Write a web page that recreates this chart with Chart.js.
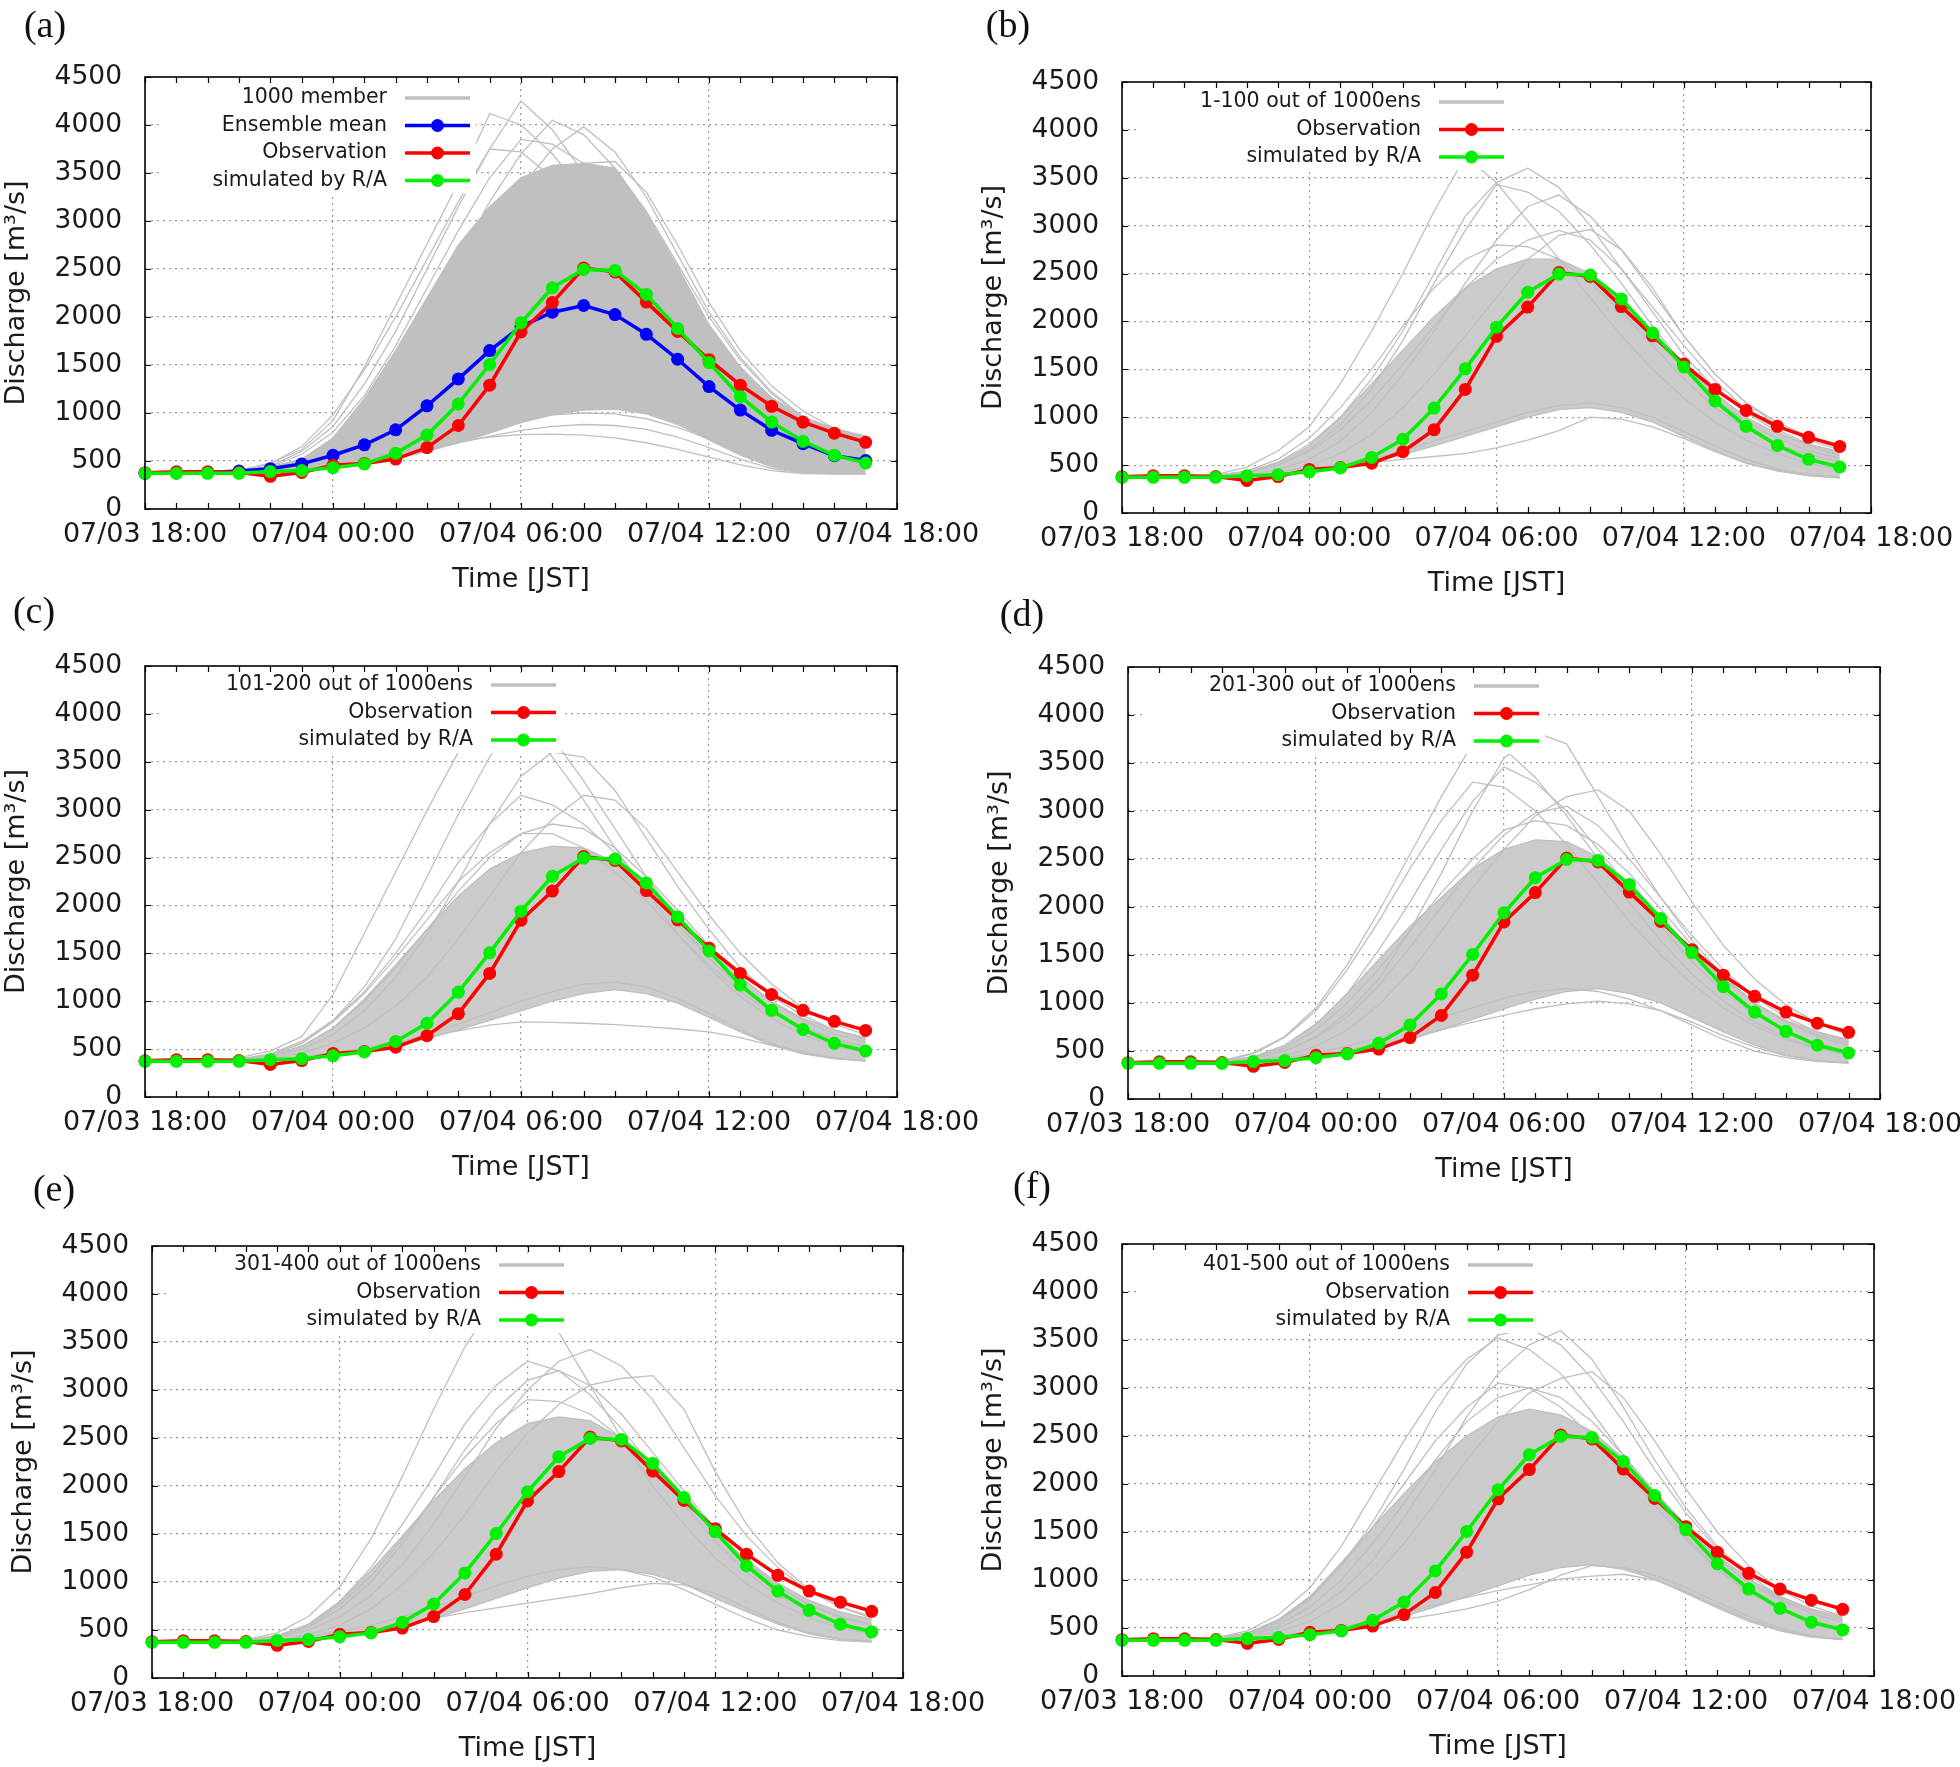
<!DOCTYPE html>
<html>
<head>
<meta charset="utf-8">
<script src="https://cdn.jsdelivr.net/npm/chart.js@4.4.1/dist/chart.umd.min.js"></script>
<style>
  html, body { margin: 0; padding: 0; background: #fff; }
  body { width: 1960px; height: 1767px; position: relative; overflow: hidden; }
  canvas { position: absolute; }
  .tag { position: absolute; font-family: 'Liberation Serif', serif; font-size: 38px; color: #111; transform: translate(-50%, -50%); line-height: 1; z-index: 2; }
</style>
</head>
<body>
<div class="tag" style="left:45px;top:24px">(a)</div>
<div class="tag" style="left:1008px;top:24px">(b)</div>
<div class="tag" style="left:34px;top:610px">(c)</div>
<div class="tag" style="left:1022px;top:613px">(d)</div>
<div class="tag" style="left:54px;top:1188px">(e)</div>
<div class="tag" style="left:1032px;top:1185px">(f)</div>
<script>
/* ============================================================
   DISCHARGE ENSEMBLE PANELS (a)-(f)
   ============================================================ */

// hourly steps from 07/03 18:00 to 07/04 17:00
const hourOffsets = [0,1,2,3,4,5,6,7,8,9,10,11,12,13,14,15,16,17,18,19,20,21,22,23];
const tickLabels = ['07/03 18:00', '07/04 00:00', '07/04 06:00', '07/04 12:00', '07/04 18:00'];

const observation  = [378,388,388,380,340,380,455,475,520,640,870,1290,1845,2150,2510,2470,2155,1850,1555,1290,1070,905,790,695];
const simulatedRA  = [372,372,372,372,390,400,430,470,580,770,1095,1505,1940,2305,2495,2485,2235,1880,1525,1170,905,705,560,480];
const ensembleMean = [372,376,380,395,420,470,560,668,825,1075,1355,1650,1900,2050,2120,2025,1820,1560,1275,1030,820,680,555,505];

// (a) 1000 members: dense core + visible outliers
const bandLowA  = [365,365,365,365,375,395,420,460,520,600,690,790,900,980,1030,1040,990,880,720,560,440,380,365,365];
const bandHighA = [375,380,385,400,440,520,740,1150,1650,2200,2750,3150,3450,3580,3600,3550,3080,2520,1920,1480,1160,960,840,760];
const memberA1 = [370,372,378,395,450,600,860,1300,1850,2500,3150,3750,4250,3950,3500,3000,2500,2000,1550,1200,920,730,590,500];
const memberA2 = [370,375,380,400,480,620,920,1480,2120,2760,3400,4120,4000,3700,3300,2850,2350,1900,1450,1100,850,650,520,430];
const memberA3 = [370,370,375,385,420,510,700,1000,1450,2000,2600,3200,3700,4050,3900,3550,3100,2550,2000,1550,1200,950,780,650];
const memberA4 = [370,370,370,380,400,460,600,850,1200,1650,2200,2800,3350,3750,3980,3720,3250,2650,2050,1580,1220,960,800,690];
const memberA5 = [370,375,380,400,470,650,980,1450,2000,2600,3200,3750,3720,3450,3050,2600,2150,1720,1330,1020,800,630,510,440];
const memberA6 = [370,370,370,375,390,420,460,520,580,640,700,750,775,780,770,740,690,620,540,460,400,370,365,365];
const memberA7 = [370,370,370,375,390,420,460,520,600,690,780,860,930,980,1000,990,940,850,730,600,490,420,380,370];
const memberA8 = [370,370,370,375,390,430,520,700,980,1350,1800,2300,2800,3250,3600,3620,3300,2750,2150,1650,1280,1020,840,740];
const memberA9 = [370,370,370,375,385,410,440,490,550,620,690,760,820,860,880,870,830,750,640,520,420,375,365,365];
const memberA10 = [370,372,376,392,440,570,800,1180,1700,2300,2900,3450,3850,3800,3600,3250,2800,2300,1800,1400,1080,850,690,590];

// (b) members 1-100
const bandLowB  = [365,365,365,370,380,400,430,470,530,610,700,800,900,1000,1080,1100,1050,950,800,650,520,440,390,365];
const bandHighB = [375,380,385,395,430,520,700,1000,1350,1700,2050,2350,2550,2650,2650,2500,2250,1900,1550,1250,1000,830,720,640];
const memberB1 = [370,375,380,400,480,650,900,1350,1900,2500,3150,3720,3450,3050,2650,2250,1850,1500,1200,950,760,620,520,450];
const memberB2 = [370,370,375,390,430,530,720,1000,1400,1900,2500,3100,3450,3600,3400,3000,2550,2100,1650,1300,1050,850,700,600];
const memberB3 = [370,370,375,385,420,500,660,920,1300,1800,2400,2950,3430,3350,3150,2800,2400,1950,1550,1200,950,780,650,570];
const memberB4 = [370,370,370,380,400,450,560,750,1050,1450,1900,2400,2850,3200,3320,3100,2750,2300,1850,1450,1150,920,760,660];
const memberB5 = [370,370,370,375,390,420,490,620,820,1100,1450,1850,2250,2650,2900,2960,2750,2350,1850,1450,1150,950,800,720];
const memberB6 = [370,370,370,372,380,400,440,490,530,560,590,620,680,760,860,1000,980,900,780,640,520,440,390,370];
const memberB7 = [370,370,370,375,390,410,440,490,560,650,750,850,950,1050,1120,1150,1100,1000,850,700,560,460,400,380];
const memberB8 = [370,372,378,390,440,560,780,1100,1500,1950,2350,2650,2800,2780,2650,2400,2100,1750,1400,1100,880,720,610,540];
const memberB9 = [370,370,372,385,420,500,640,870,1180,1550,1950,2350,2650,2850,2950,2850,2550,2150,1750,1380,1080,870,720,630];

// (c) members 101-200
const bandLowC  = [365,365,365,370,380,400,430,470,530,610,700,800,900,1000,1080,1120,1080,980,830,680,540,450,400,375];
const bandHighC = [375,380,385,395,430,530,720,1020,1380,1750,2100,2380,2550,2620,2600,2450,2200,1880,1550,1250,1000,820,700,620];
const memberC1 = [370,375,380,410,480,630,1070,1710,2350,2990,3600,4120,3950,3550,3100,2600,2150,1700,1350,1050,820,650,530,460];
const memberC2 = [370,370,375,390,440,560,800,1150,1650,2300,2950,3550,4000,3750,3300,2800,2300,1850,1450,1150,900,720,600,520];
const memberC3 = [370,370,372,385,420,500,650,900,1250,1700,2250,2850,3350,3600,3550,3200,2700,2200,1750,1350,1050,850,700,600];
const memberC4 = [370,372,378,395,450,580,800,1100,1500,1950,2450,2850,3150,3050,2850,2550,2200,1800,1450,1150,900,730,610,530];
const memberC5 = [370,370,370,380,405,460,560,720,950,1250,1650,2100,2550,2900,3150,3100,2800,2350,1900,1500,1180,930,760,650];
const memberC6 = [370,370,370,375,390,420,460,510,570,630,690,750,785,780,770,755,735,710,680,620,540,470,410,375];
const memberC7 = [370,370,370,375,390,410,440,490,560,650,760,880,1000,1100,1180,1200,1150,1030,870,700,560,460,400,380];
const memberC8 = [370,372,378,392,440,560,780,1080,1450,1850,2250,2550,2750,2750,2600,2350,2050,1700,1380,1100,880,720,600,520];
const memberC9 = [370,370,374,388,430,530,720,1000,1350,1750,2150,2500,2750,2850,2800,2600,2300,1950,1580,1260,990,800,660,570];

// (d) members 201-300
const bandLowD  = [365,365,365,370,385,410,440,480,540,620,720,830,940,1040,1120,1150,1100,1000,850,700,560,460,400,380];
const bandHighD = [375,380,385,398,440,560,780,1100,1450,1800,2100,2400,2600,2700,2680,2520,2250,1900,1550,1250,1000,820,700,620];
const memberD1 = [370,370,372,385,420,500,650,900,1250,1750,2350,3000,3550,3820,3700,3150,2600,2100,1650,1280,1000,800,650,560];
const memberD2 = [370,375,380,400,480,650,950,1400,1950,2550,3150,3700,3650,3350,2950,2500,2050,1650,1300,1020,800,640,530,460];
const memberD3 = [370,372,378,392,440,560,780,1100,1550,2050,2600,3100,3460,3300,3000,2600,2200,1800,1430,1120,880,700,580,500];
const memberD4 = [370,370,370,378,400,450,550,720,980,1320,1750,2200,2600,2950,3150,3220,3000,2550,2050,1600,1250,980,790,660];
const memberD5 = [370,375,380,398,470,640,920,1350,1850,2400,2900,3300,3250,3000,2650,2250,1850,1500,1200,950,760,620,520,460];
const memberD6 = [370,370,370,375,390,420,460,510,570,640,720,800,870,940,990,1020,990,920,800,660,540,450,400,375];
const memberD7 = [370,370,370,375,395,430,480,550,640,740,850,950,1050,1120,1150,1120,1040,920,770,620,500,430,390,375];
const memberD8 = [370,370,372,385,420,500,640,860,1180,1580,2000,2400,2750,2980,3050,2850,2500,2100,1700,1350,1060,850,700,600];
const memberD9 = [370,370,374,388,430,530,720,1000,1350,1750,2150,2500,2800,2900,2850,2650,2350,1980,1600,1270,1000,810,670,580];

// (e) members 301-400
const bandLowE  = [365,365,365,370,385,410,440,480,540,620,720,830,940,1040,1110,1130,1080,980,830,690,560,460,400,380];
const bandHighE = [375,380,385,398,440,560,790,1120,1480,1850,2180,2450,2650,2720,2680,2500,2220,1880,1530,1230,990,810,690,610];
const memberE1 = [370,375,380,400,470,640,950,1450,2100,2800,3450,3950,4000,3600,3050,2500,2000,1600,1250,980,780,630,520,460];
const memberE2 = [370,370,372,385,420,500,640,860,1180,1600,2100,2600,3000,3300,3420,3250,2900,2400,1900,1480,1150,900,740,640];
const memberE3 = [370,372,378,392,440,560,800,1150,1600,2100,2650,3050,3300,3200,2950,2600,2200,1800,1420,1100,860,690,570,500];
const memberE4 = [370,370,375,388,430,530,720,1000,1400,1880,2380,2800,3100,3200,3050,2750,2350,1950,1550,1220,950,760,630,550];
const memberE5 = [370,370,370,378,400,450,550,720,970,1300,1700,2150,2550,2850,3050,3120,3150,2800,2150,1600,1200,920,740,620];
const memberE6 = [370,370,370,375,385,410,450,500,560,620,680,730,780,830,880,940,985,970,880,730,580,470,410,380];
const memberE7 = [370,370,370,375,395,430,480,550,640,740,850,960,1060,1130,1160,1130,1050,920,770,620,500,430,390,375];
const memberE8 = [370,372,376,390,435,545,760,1060,1450,1880,2300,2650,2900,2880,2750,2500,2200,1850,1500,1200,950,770,640,560];

// (f) members 401-500
const bandLowF  = [365,365,365,370,385,410,440,480,540,620,720,830,940,1050,1130,1160,1110,1010,860,710,570,470,405,380];
const bandHighF = [375,380,385,400,450,590,830,1180,1550,1900,2230,2500,2700,2780,2720,2550,2270,1920,1570,1260,1010,830,700,620];
const memberF1 = [370,372,378,392,440,560,800,1150,1600,2150,2750,3250,3550,3620,3450,3100,2650,2150,1700,1320,1020,800,650,560];
const memberF2 = [370,370,372,385,420,500,650,880,1200,1650,2150,2700,3150,3450,3600,3300,2800,2250,1750,1350,1050,830,680,590];
const memberF3 = [370,375,380,398,470,640,920,1350,1900,2450,2950,3300,3520,3400,3150,2750,2300,1850,1450,1120,870,690,570,490];
const memberF4 = [370,370,370,378,405,460,570,750,1020,1380,1800,2250,2650,2950,3100,3170,2900,2450,1950,1500,1150,900,730,620];
const memberF5 = [370,372,378,392,445,580,820,1150,1550,2000,2450,2800,3050,3000,2800,2500,2150,1780,1420,1110,870,700,580,500];
const memberF6 = [370,370,370,375,390,420,460,510,580,660,740,820,890,950,1010,1040,1060,1000,880,730,590,480,410,380];
const memberF7 = [370,370,370,375,390,420,460,500,540,590,640,700,780,900,1050,1150,1130,1050,920,770,620,500,420,380];
const memberF8 = [370,370,374,388,430,530,720,1000,1380,1800,2250,2650,2900,3000,2900,2650,2300,1920,1550,1230,970,790,650,570];

// ============================================================
// PANEL LAYOUT (page pixels)
// ============================================================
const panels = [
    { box: {l: 145,  t: 77,   r: 897,  b: 509},  key: {right: 242, top: 21}, label: '1000 member', mean: true,
      band: [bandLowA, bandHighA], bandColor: '#c0c0c0',
      members: [memberA1, memberA2, memberA3, memberA4, memberA5, memberA6, memberA7, memberA8, memberA9, memberA10] },
    { box: {l: 1122, t: 82,   r: 1871, b: 513},  key: {right: 299, top: 20}, label: '1-100 out of 1000ens',
      band: [bandLowB, bandHighB], bandColor: '#cbcbcb',
      members: [memberB1, memberB2, memberB3, memberB4, memberB5, memberB6, memberB7, memberB8, memberB9] },
    { box: {l: 145,  t: 666,  r: 897,  b: 1097}, key: {right: 328, top: 19}, label: '101-200 out of 1000ens',
      band: [bandLowC, bandHighC], bandColor: '#cbcbcb',
      members: [memberC1, memberC2, memberC3, memberC4, memberC5, memberC6, memberC7, memberC8, memberC9] },
    { box: {l: 1128, t: 667,  r: 1880, b: 1099}, key: {right: 328, top: 19}, label: '201-300 out of 1000ens',
      band: [bandLowD, bandHighD], bandColor: '#cbcbcb',
      members: [memberD1, memberD2, memberD3, memberD4, memberD5, memberD6, memberD7, memberD8, memberD9] },
    { box: {l: 152,  t: 1246, r: 903,  b: 1678}, key: {right: 329, top: 19}, label: '301-400 out of 1000ens',
      band: [bandLowE, bandHighE], bandColor: '#cbcbcb',
      members: [memberE1, memberE2, memberE3, memberE4, memberE5, memberE6, memberE7, memberE8] },
    { box: {l: 1122, t: 1244, r: 1874, b: 1676}, key: {right: 328, top: 21}, label: '401-500 out of 1000ens',
      band: [bandLowF, bandHighF], bandColor: '#cbcbcb',
      members: [memberF1, memberF2, memberF3, memberF4, memberF5, memberF6, memberF7, memberF8] }
];

const GRAY = '#bfbfbf';
const RED = '#ff0000';
const GREEN = '#00f000';
const BLUE = '#0000ff';
const FONT = "'DejaVu Sans', sans-serif";
const PAD_LEFT = 145, PAD_TOP = 40, PAD_RIGHT = 82, AXIS_H = 87;

Chart.defaults.font.family = FONT;
Chart.defaults.color = '#1a1a1a';

function markedLine(label, values, color, order) {
    return {
        label: label, data: values, order: order,
        borderColor: color, backgroundColor: color, borderWidth: 3.5,
        pointRadius: 6.5, pointBorderWidth: 0, pointBackgroundColor: color,
        tension: 0, fill: false, clip: false
    };
}

function grayLine(values, extra) {
    return Object.assign({
        data: values, order: 10, borderColor: GRAY, borderWidth: 1.3,
        pointRadius: 0, tension: 0, fill: false
    }, extra || {});
}

// border box + inward tick marks (gnuplot style)
const framePlugin = {
    id: 'frame',
    afterDatasetsDraw(chart) {
        const {ctx, chartArea: a, scales: {x, y}} = chart;
        ctx.save();
        ctx.strokeStyle = '#000';
        ctx.lineWidth = 1.2;
        ctx.beginPath();
        x.ticks.forEach(t => {
            const px = Math.round(x.getPixelForValue(t.value)) + 0.5;
            ctx.moveTo(px, a.bottom); ctx.lineTo(px, a.bottom - 6);
            ctx.moveTo(px, a.top); ctx.lineTo(px, a.top + 6);
        });
        y.ticks.forEach(t => {
            const py = Math.round(y.getPixelForValue(t.value)) + 0.5;
            ctx.moveTo(a.left, py); ctx.lineTo(a.left + 6, py);
            ctx.moveTo(a.right, py); ctx.lineTo(a.right - 6, py);
        });
        ctx.stroke();
        ctx.lineWidth = 1.6;
        ctx.strokeRect(a.left, a.top, a.right - a.left, a.bottom - a.top);
        ctx.restore();
    }
};

// opaque key inside the plot, text right-aligned with samples
function makeKeyPlugin(panel, entries) {
    return {
        id: 'key',
        afterDatasetsDraw(chart) {
            const {ctx, chartArea: a} = chart;
            const textRight = a.left + panel.key.right;
            const x0 = textRight + 18, x1 = textRight + 83;
            const rowY = i => a.top + panel.key.top + i * 27.5;
            ctx.save();
            ctx.fillStyle = '#fff';
            ctx.fillRect(a.left + 14, a.top + 7, x1 + 6 - (a.left + 14), rowY(entries.length - 1) + 13 - (a.top + 7));
            ctx.font = '20.5px ' + FONT;
            ctx.textAlign = 'right';
            ctx.textBaseline = 'middle';
            entries.forEach((e, i) => {
                const yy = rowY(i);
                ctx.fillStyle = '#1a1a1a';
                ctx.fillText(e.text, textRight, yy);
                ctx.strokeStyle = e.color;
                ctx.lineWidth = 3.5;
                ctx.beginPath();
                ctx.moveTo(x0, yy); ctx.lineTo(x1, yy);
                ctx.stroke();
                if (e.marker) {
                    ctx.fillStyle = e.color;
                    ctx.beginPath();
                    ctx.arc((x0 + x1) / 2, yy, 6.5, 0, Math.PI * 2);
                    ctx.fill();
                }
            });
            ctx.restore();
        }
    };
}

function buildPanel(panel) {
    const plotW = panel.box.r - panel.box.l;
    const plotH = panel.box.b - panel.box.t;
    const w = PAD_LEFT + plotW + PAD_RIGHT;
    const h = PAD_TOP + plotH + AXIS_H;

    const canvas = document.createElement('canvas');
    canvas.width = w;
    canvas.height = h;
    canvas.style.left = (panel.box.l - PAD_LEFT) + 'px';
    canvas.style.top = (panel.box.t - PAD_TOP) + 'px';
    canvas.style.width = w + 'px';
    canvas.style.height = h + 'px';
    document.body.appendChild(canvas);

    const datasets = [markedLine('simulated by R/A', simulatedRA, GREEN, 0),
                      markedLine('Observation', observation, RED, 1)];
    if (panel.mean) datasets.push(markedLine('Ensemble mean', ensembleMean, BLUE, 2));
    panel.members.forEach(m => datasets.push(grayLine(m)));
    datasets.push(grayLine(panel.band[0]));
    datasets.push(grayLine(panel.band[1], {fill: '-1', backgroundColor: panel.bandColor}));

    const entries = [{text: panel.label, color: GRAY, marker: false}];
    if (panel.mean) entries.push({text: 'Ensemble mean', color: BLUE, marker: true});
    entries.push({text: 'Observation', color: RED, marker: true});
    entries.push({text: 'simulated by R/A', color: GREEN, marker: true});

    const gridColor = (ctx, lo, hi) => {
        const v = ctx.tick ? ctx.tick.value : null;
        return (v !== null && v > lo && v < hi) ? '#9a9a9a' : 'rgba(0,0,0,0)';
    };

    new Chart(canvas, {
        type: 'line',
        data: { labels: hourOffsets, datasets: datasets },
        options: {
            responsive: false,
            animation: false,
            devicePixelRatio: 1,
            layout: { padding: { top: PAD_TOP, right: PAD_RIGHT, left: 0, bottom: 0 } },
            plugins: { legend: { display: false }, tooltip: { enabled: false } },
            scales: {
                x: {
                    type: 'linear', min: 0, max: 24,
                    ticks: {
                        stepSize: 1, autoSkip: false, maxRotation: 0, padding: 10,
                        font: { size: 27 },
                        callback: v => (v % 6 === 0 ? tickLabels[v / 6] : '')
                    },
                    grid: {
                        drawTicks: false, lineWidth: 1.2,
                        color: ctx => (ctx.tick && ctx.tick.value % 6 === 0) ? gridColor(ctx, 0, 24) : 'rgba(0,0,0,0)'
                    },
                    border: { display: false, dash: [2, 4] },
                    title: { display: true, text: 'Time [JST]', font: { size: 27 }, padding: { top: 0, bottom: 0 } },
                    afterFit: s => { s.height = AXIS_H; s.paddingLeft = 0; s.paddingRight = 0; }
                },
                y: {
                    min: 0, max: 4500,
                    ticks: { stepSize: 500, padding: 23, font: { size: 26.5 }, callback: v => String(v) },
                    grid: { drawTicks: false, lineWidth: 1.2, color: ctx => gridColor(ctx, 0, 4500) },
                    border: { display: false, dash: [2, 4] },
                    title: { display: true, text: 'Discharge [m³/s]', font: { size: 27 }, padding: { top: 1, bottom: 0 } },
                    afterFit: s => { s.width = PAD_LEFT; s.paddingTop = 0; s.paddingBottom = 0; }
                }
            }
        },
        plugins: [framePlugin, makeKeyPlugin(panel, entries)]
    });
}

panels.forEach(buildPanel);
</script>
</body>
</html>
